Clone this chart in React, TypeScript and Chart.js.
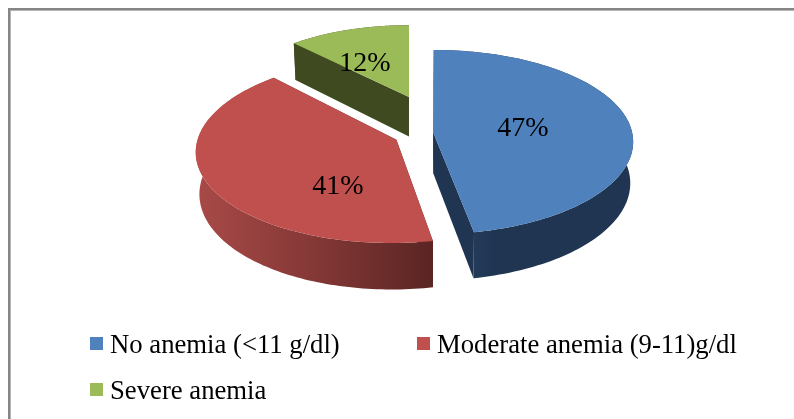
import React, { useEffect, useRef } from "react";
import { Chart, registerables } from "chart.js";

Chart.register(...registerables);

const categories = ["No anemia (<11 g/dl)", "Moderate anemia (9-11)g/dl", "Severe anemia"];
const values = [47, 41, 12];
const valueLabels = ["47%", "41%", "12%"];
const colors = ["#4f81bd", "#c0504d", "#9bbb59"];
const cutColors = ["#1f3552", "#5c2523", "#404a20"];

// Layout: explosion of each slice on the disc plane, in radius units, and perspective
const SLICE_CENTRE = [[-0.035, 0], [-0.217, 0.085], [0, -0.4]];
const SLICE_SCALE = [1, 0.99, 0.947];
const CAMERA_SHIFT_X = [43, 43, 12];
const CAMERA_SHIFT_Y = -77.5;
const LABEL_SHIFT = [[126, -80.5], [-59, -22.5], [-32, -145.5]];
const LEGEND_X = [90, 417, 90];
const LEGEND_Y = [337, 337, 383];
const DRAW_ORDER = [2, 0, 1];

const PERSP = 0.11;
const SQUASH = 0.4575;
const DEPTH = 41;
const TAPER = 0.985;
const FONT = '"Liberation Serif"';

const pie3d = {
  id: "pie3d",
  beforeDraw(chart: any) {
    const { ctx, width, height } = chart;
    ctx.save();
    ctx.fillStyle = "#ffffff";
    ctx.fillRect(0, 0, width, height);
    ctx.fillStyle = "#858585";
    ctx.fillRect(8, 8, width - 8, 2);
    ctx.fillRect(8, 8, 2, height - 8);
    ctx.fillStyle = "#b4b4b4";
    ctx.fillRect(10, 10, width - 10, 1);
    ctx.fillRect(10, 10, 1, height - 10);
    ctx.restore();
  },
  beforeDatasetsDraw(chart: any) {
    const { ctx } = chart;
    const arcs = chart.getDatasetMeta(0).data;
    ctx.save();
    for (const i of DRAW_ORDER) {
      const arc = arcs[i];
      const camX = arc.x + CAMERA_SHIFT_X[i];
      const camY = arc.y + CAMERA_SHIFT_Y;
      const R = arc.outerRadius;
      const [wx, wy] = SLICE_CENTRE[i];
      const rr = SLICE_SCALE[i];
      // p = [screen x, screen y, screen depth]
      const proj = (X: number, Y: number) => {
        const w = 1 - PERSP * Y;
        return [camX + (X * R) / w, camY + (Y * R * SQUASH) / w, DEPTH / w];
      };
      const a0 = arc.startAngle + Math.PI / 2;
      const a1 = arc.endAngle + Math.PI / 2;
      const steps = 120;
      const top: number[][] = [];
      for (let s = 0; s <= steps; s++) {
        const t = a0 + ((a1 - a0) * s) / steps;
        top.push(proj(wx + rr * Math.sin(t), wy - rr * Math.cos(t)));
      }
      const low = (p: number[]) => [camX + (p[0] - camX) * TAPER, p[1] + p[2], p[2]];
      const vertex = proj(wx, wy);
      const poly = (pts: number[][], fill: any) => {
        ctx.beginPath();
        pts.forEach((p, k) => (k ? ctx.lineTo(p[0], p[1]) : ctx.moveTo(p[0], p[1])));
        ctx.closePath();
        ctx.fillStyle = fill;
        ctx.fill();
      };
      // cut faces
      poly([vertex, top[0], low(top[0]), low(vertex)], cutColors[i]);
      poly([vertex, top[steps], low(top[steps]), low(vertex)], cutColors[i]);
      // outer wall
      const xs = top.map((p) => p[0]);
      const minX = Math.min(...xs);
      let wall: any = cutColors[i];
      if (i === 1) {
        wall = ctx.createLinearGradient(minX, 0, top[0][0], 0);
        wall.addColorStop(0, "#a84a47");
        wall.addColorStop(0.5, "#843836");
        wall.addColorStop(1, "#5a2523");
      } else if (i === 0) {
        wall = ctx.createLinearGradient(top[0][0], 0, top[0][0] + 60, 0);
        wall.addColorStop(0, "#2c4568");
        wall.addColorStop(1, "#1f3552");
      }
      poly([...top, ...top.map(low).reverse()], wall);
      // top face
      poly([vertex, ...top], colors[i]);
    }
    ctx.restore();
    return false;
  },
  afterDraw(chart: any) {
    const { ctx } = chart;
    const arcs = chart.getDatasetMeta(0).data;
    ctx.save();
    ctx.fillStyle = "#000000";
    ctx.textAlign = "center";
    ctx.textBaseline = "middle";
    ctx.font = `28px ${FONT}`;
    arcs.forEach((arc: any, i: number) => {
      ctx.fillText(valueLabels[i], arc.x + LABEL_SHIFT[i][0], arc.y + LABEL_SHIFT[i][1]);
    });
    ctx.textAlign = "left";
    ctx.textBaseline = "alphabetic";
    ctx.font = `26.7px ${FONT}`;
    categories.forEach((c, i) => {
      ctx.fillStyle = colors[i];
      ctx.fillRect(LEGEND_X[i], LEGEND_Y[i], 13, 13);
      ctx.fillStyle = "#000000";
      ctx.fillText(c, LEGEND_X[i] + 20, LEGEND_Y[i] + 16);
    });
    ctx.restore();
  },
};

export default function App() {
  const ref = useRef<HTMLCanvasElement>(null);
  useEffect(() => {
    const chart = new Chart(ref.current as HTMLCanvasElement, {
      type: "pie",
      data: {
        labels: categories,
        datasets: [{ data: values, backgroundColor: colors, borderWidth: 0, radius: 199 }],
      },
      options: {
        responsive: false,
        animation: false,
        layout: { padding: 0 },
        plugins: { legend: { display: false }, tooltip: { enabled: false } },
      },
      plugins: [pie3d],
    } as any);
    return () => chart.destroy();
  }, []);
  return (
    <div style={{ position: "fixed", left: 0, top: 0, width: 794, height: 419 }}>
      <canvas ref={ref} width={794} height={419} style={{ display: "block" }} />
    </div>
  );
}
